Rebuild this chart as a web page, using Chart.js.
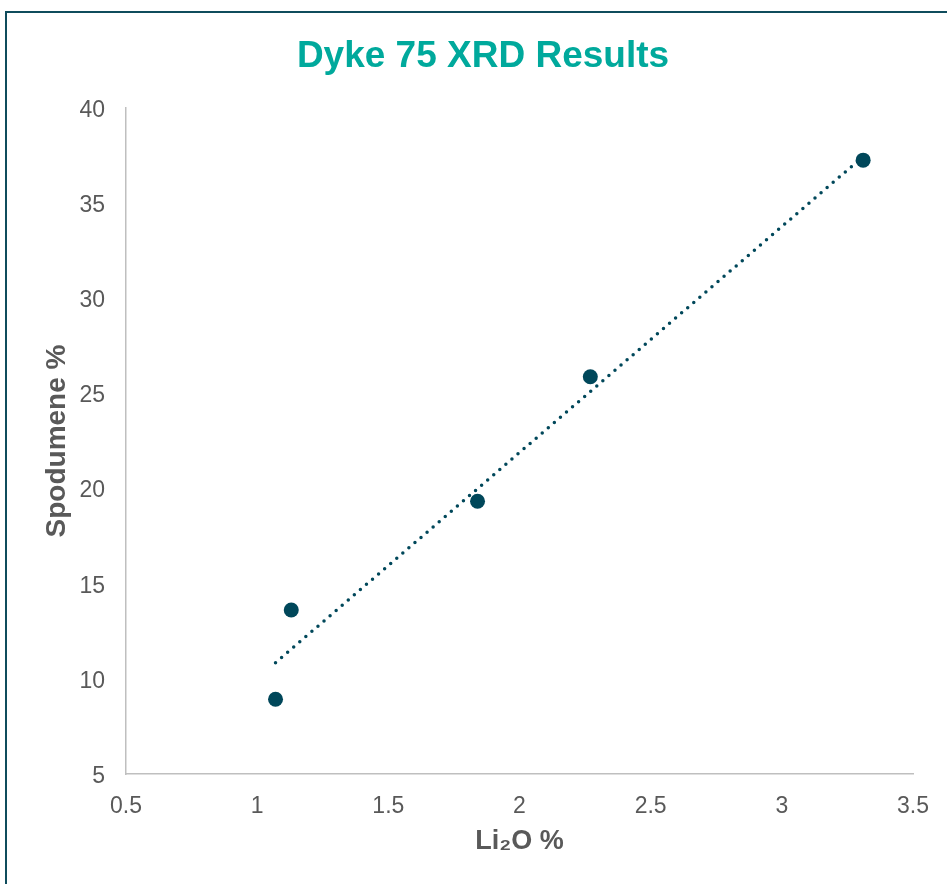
<!DOCTYPE html>
<html>
<head>
<meta charset="utf-8">
<title>Dyke 75 XRD Results</title>
<script src="https://cdn.jsdelivr.net/npm/chart.js@4/dist/chart.umd.min.js"></script>
<style>
    html, body { margin: 0; padding: 0; background: #fff; overflow: hidden; }
    #frame {
        position: absolute; left: 4.5px; top: 11px;
        width: 2000px; height: 2000px;
        border: 2.5px solid #0F4C5C;
    }
    #myChart { position: absolute; left: 0; top: 0; }
</style>
</head>
<body>
<div id="frame"></div>
<canvas id="myChart" width="947" height="884"></canvas>
<script>
// values
var li2o = [1.07, 1.13, 1.84, 2.27, 3.31];
var spodumene = [8.93, 13.62, 19.33, 25.88, 37.26];

// dotted trendline ends, as drawn in the picture
var trendX = [1.07, 3.31];
var trendY = [10.85, 37.45];

var xTicks = [0.5, 1, 1.5, 2, 2.5, 3, 3.5];
var yTicks = [5, 10, 15, 20, 25, 30, 35, 40];

const DARK = '#00475A';
const GREY = '#595959';
const FONT = 'Liberation Sans, Arial, sans-serif';

function toPoints(xs, ys) {
    return xs.map((x, i) => ({ x: x, y: ys[i] }));
}

// move the title block so its centre sits where the original has it
var shiftTitle = {
    id: 'shiftTitle',
    afterLayout: function(chart) {
        if (chart.titleBlock) {
            chart.titleBlock.left = 53;
        }
    }
};

var ctx = document.getElementById('myChart').getContext('2d');
var chart = new Chart(ctx, {
    type: 'scatter',
    data: {
        datasets: [{
            label: 'Spodumene',
            data: toPoints(li2o, spodumene),
            backgroundColor: DARK,
            borderColor: DARK,
            pointRadius: 7.5,
            pointHoverRadius: 7.5,
            borderWidth: 0
        }, {
            type: 'line',
            label: 'Trend',
            data: toPoints(trendX, trendY),
            borderColor: DARK,
            borderWidth: 3.5,
            borderDash: [0, 8],
            borderCapStyle: 'round',
            pointRadius: 0,
            fill: false,
            tension: 0
        }]
    },
    options: {
        responsive: false,
        animation: false,
        layout: { padding: { left: 0, right: 34, top: 0, bottom: 0 } },
        plugins: {
            legend: { display: false },
            tooltip: { enabled: false },
            title: {
                display: true,
                text: 'Dyke 75 XRD Results',
                color: '#00A99C',
                font: { family: FONT, size: 37, weight: 'bold' },
                padding: { top: 35, bottom: 28.6 }
            }
        },
        scales: {
            x: {
                type: 'linear',
                min: xTicks[0],
                max: xTicks[xTicks.length - 1],
                afterBuildTicks: function(axis) {
                    axis.ticks = xTicks.map(v => ({ value: v }));
                },
                afterFit: function(axis) { axis.height = 110; },
                grid: { display: false },
                border: { display: true, color: '#BFBFBF', width: 1.5 },
                ticks: {
                    color: GREY,
                    padding: 11,
                    font: { family: FONT, size: 23 },
                    callback: function(v) { return String(v); }
                },
                title: {
                    display: true,
                    text: 'Li₂O %',
                    color: GREY,
                    font: { family: FONT, size: 27, weight: 'bold' },
                    padding: { top: 0, bottom: 26 }
                }
            },
            y: {
                type: 'linear',
                min: yTicks[0],
                max: yTicks[yTicks.length - 1],
                afterBuildTicks: function(axis) {
                    axis.ticks = yTicks.map(v => ({ value: v }));
                },
                afterFit: function(axis) { axis.width = 126; },
                grid: { display: false },
                border: { display: true, color: '#BFBFBF', width: 1.5 },
                ticks: {
                    color: GREY,
                    padding: 13,
                    labelOffset: 2.5,
                    font: { family: FONT, size: 23 },
                    callback: function(v) { return String(v); }
                },
                title: {
                    display: true,
                    text: 'Spodumene %',
                    color: GREY,
                    font: { family: FONT, size: 28, weight: 'bold' },
                    padding: { top: 40, bottom: 0 }
                }
            }
        }
    },
    plugins: [shiftTitle]
});
</script>
</body>
</html>
